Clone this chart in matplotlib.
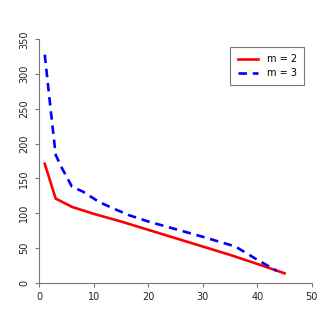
import matplotlib
matplotlib.use("Agg")
import matplotlib.pyplot as plt

# values
x2 = [1, 3, 6, 10, 15, 20, 25, 30, 35, 40, 45]
y2 = [171, 121, 109, 99, 88, 76, 64, 52, 40, 27, 13.5]

x3 = [1, 2, 3, 4, 6, 8, 11, 13.5, 16.5, 20, 25, 30, 36, 40, 43.6]
y3 = [328, 255, 184, 167, 138, 131, 116, 107, 97, 88, 77, 66, 52, 33, 17]

xticks = [0, 10, 20, 30, 40, 50]
yticks = [0, 50, 100, 150, 200, 250, 300, 350]

fig = plt.figure(figsize=(3.32, 3.32), dpi=100)
ax = fig.add_axes([0.1184, 0.1485, 0.8206, 0.7331])

ax.plot(x2, y2, color="#ff0000", lw=1.9, solid_joinstyle="miter", label="m = 2")
ax.plot(x3, y3, color="#0000ff", lw=1.9, dashes=(3.2, 2.2), label="m = 3")

ax.set_xlim(0, 50)
ax.set_ylim(0, 350)
ax.set_xticks(xticks)
ax.set_yticks(yticks)
for s in ["top", "right"]:
    ax.spines[s].set_visible(False)
for s in ["left", "bottom"]:
    ax.spines[s].set_color("#777777")
    ax.spines[s].set_linewidth(0.8)
ax.tick_params(axis="both", length=3, width=0.8, color="#777777", labelsize=7, labelcolor="#222222")
ax.tick_params(axis="x", pad=4)
ax.tick_params(axis="y", pad=4.5)
for lab in ax.get_yticklabels():
    lab.set_rotation(90)
    lab.set_va("center")

leg = fig.legend(loc="upper right", bbox_to_anchor=(0.9307, 0.8735), fontsize=7,
                 frameon=True, fancybox=False, handlelength=2.1, borderpad=0.75,
                 labelspacing=0.4, handletextpad=0.9)
leg.get_frame().set_edgecolor("#555555")
leg.get_frame().set_linewidth(0.8)

fig.savefig("out.png", dpi=100)
